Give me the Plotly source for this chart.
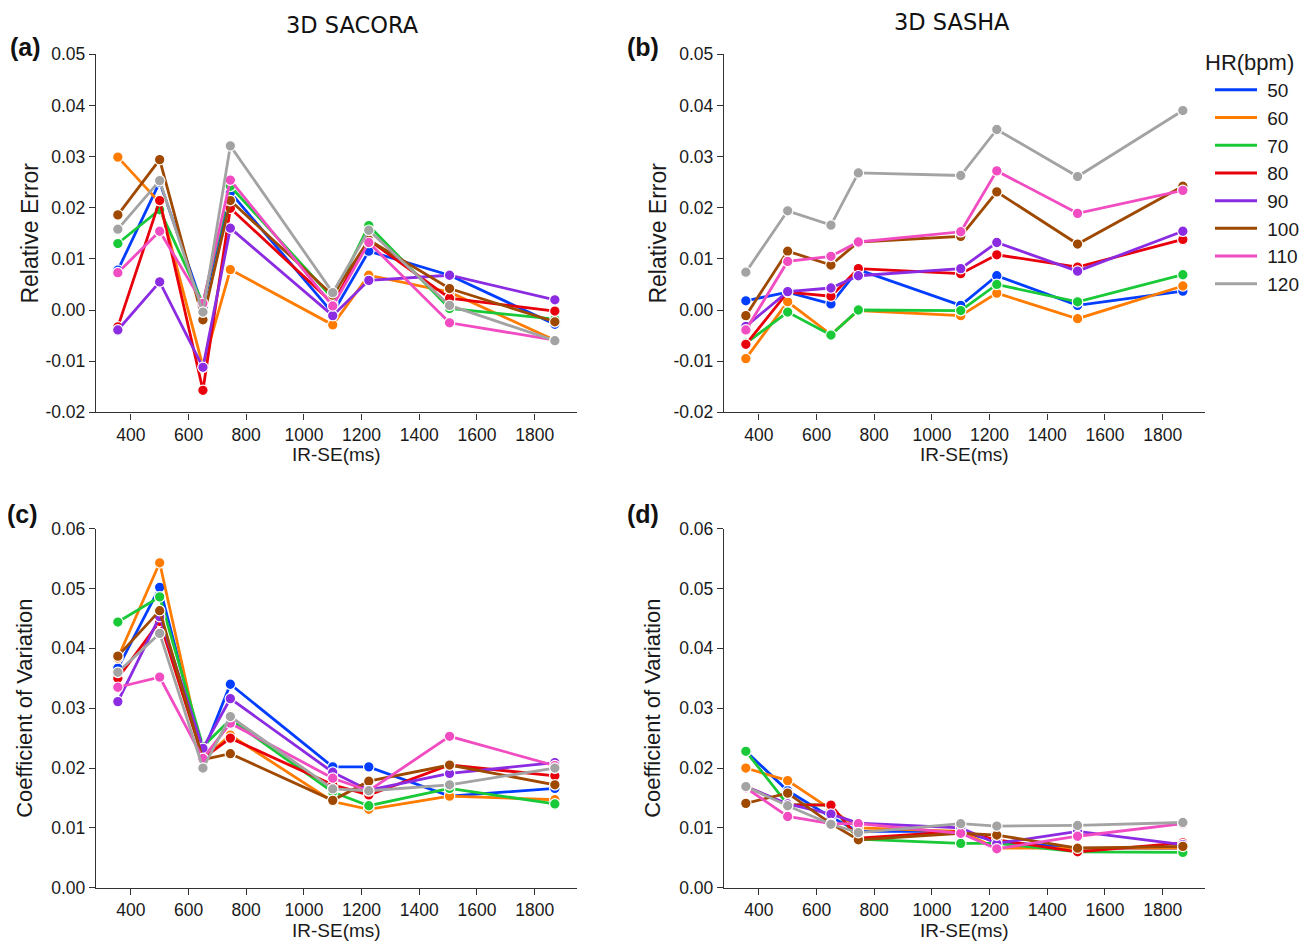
import plotly.graph_objects as go

# ---------------- data ----------------
ir_se = [355, 500, 650, 745, 1100, 1225, 1505, 1870]
hr_labels = ["50", "60", "70", "80", "90", "100", "110", "120"]
colors = ["#023eff", "#ff7c00", "#1ac938", "#e8000b", "#8b2be2", "#9f4800", "#f14cc1", "#a3a3a3"]

# (a) 3D SACORA relative error
sacora_re_50 = [0.0078, 0.0250, 0.0006, 0.0230, -0.0006, 0.0115, 0.0068, -0.0028]
sacora_re_60 = [0.0299, 0.0210, -0.0110, 0.0079, -0.0029, 0.0068, 0.0035, -0.0059]
sacora_re_70 = [0.0130, 0.0196, 0.0013, 0.0242, 0.0023, 0.0165, 0.0003, -0.0018]
sacora_re_80 = [-0.0033, 0.0214, -0.0157, 0.0199, 0.0013, 0.0137, 0.0023, -0.0002]
sacora_re_90 = [-0.0039, 0.0055, -0.0112, 0.0160, -0.0011, 0.0058, 0.0068, 0.0020]
sacora_re_100 = [0.0186, 0.0294, -0.0019, 0.0214, 0.0029, 0.0137, 0.0042, -0.0023]
sacora_re_110 = [0.0073, 0.0154, 0.0013, 0.0254, 0.0008, 0.0132, -0.0025, -0.0059]
sacora_re_120 = [0.0158, 0.0253, -0.0004, 0.0321, 0.0034, 0.0156, 0.0009, -0.0060]

# (b) 3D SASHA relative error
sasha_re_50 = [0.0018, 0.0035, 0.0012, 0.0079, 0.0009, 0.0067, 0.0009, 0.0037]
sasha_re_60 = [-0.0095, 0.0016, -0.0048, -0.0001, -0.0011, 0.0033, -0.0017, 0.0047]
sasha_re_70 = [-0.0065, -0.0004, -0.0049, 0.0000, -0.0001, 0.0050, 0.0016, 0.0069]
sasha_re_80 = [-0.0067, 0.0035, 0.0027, 0.0081, 0.0071, 0.0108, 0.0084, 0.0138]
sasha_re_90 = [-0.0032, 0.0036, 0.0043, 0.0067, 0.0081, 0.0132, 0.0076, 0.0154]
sasha_re_100 = [-0.0011, 0.0115, 0.0088, 0.0133, 0.0144, 0.0231, 0.0129, 0.0242]
sasha_re_110 = [-0.0039, 0.0095, 0.0105, 0.0133, 0.0153, 0.0272, 0.0189, 0.0234]
sasha_re_120 = [0.0074, 0.0194, 0.0166, 0.0268, 0.0263, 0.0353, 0.0261, 0.0390]

# (c) 3D SACORA coefficient of variation
sacora_cv_50 = [0.0367, 0.0502, 0.0225, 0.0340, 0.0202, 0.0202, 0.0153, 0.0166]
sacora_cv_60 = [0.0384, 0.0543, 0.0216, 0.0255, 0.0144, 0.0131, 0.0153, 0.0147]
sacora_cv_70 = [0.0444, 0.0486, 0.0236, 0.0281, 0.0160, 0.0137, 0.0166, 0.0140]
sacora_cv_80 = [0.0350, 0.0445, 0.0216, 0.0250, 0.0172, 0.0155, 0.0205, 0.0187]
sacora_cv_90 = [0.0311, 0.0453, 0.0233, 0.0316, 0.0193, 0.0163, 0.0191, 0.0209]
sacora_cv_100 = [0.0387, 0.0463, 0.0214, 0.0224, 0.0146, 0.0178, 0.0205, 0.0172]
sacora_cv_110 = [0.0335, 0.0352, 0.0216, 0.0275, 0.0183, 0.0162, 0.0253, 0.0204]
sacora_cv_120 = [0.0360, 0.0425, 0.0200, 0.0286, 0.0165, 0.0162, 0.0172, 0.0200]

# (d) 3D SASHA coefficient of variation
sasha_cv_50 = [0.0228, 0.0162, 0.0118, 0.0094, 0.0094, 0.0077, 0.0066, 0.0066]
sasha_cv_60 = [0.0200, 0.0179, 0.0131, 0.0100, 0.0094, 0.0066, 0.0066, 0.0066]
sasha_cv_70 = [0.0228, 0.0139, 0.0138, 0.0081, 0.0074, 0.0074, 0.0060, 0.0059]
sasha_cv_80 = [0.0169, 0.0139, 0.0138, 0.0083, 0.0094, 0.0080, 0.0060, 0.0075]
sasha_cv_90 = [0.0169, 0.0140, 0.0123, 0.0108, 0.0100, 0.0074, 0.0094, 0.0072]
sasha_cv_100 = [0.0141, 0.0158, 0.0107, 0.0080, 0.0091, 0.0088, 0.0066, 0.0069]
sasha_cv_110 = [0.0167, 0.0119, 0.0107, 0.0107, 0.0091, 0.0065, 0.0086, 0.0107]
sasha_cv_120 = [0.0169, 0.0137, 0.0106, 0.0092, 0.0107, 0.0103, 0.0104, 0.0109]

panels = [
    ("x", "y", [sacora_re_50, sacora_re_60, sacora_re_70, sacora_re_80, sacora_re_90, sacora_re_100, sacora_re_110, sacora_re_120]),
    ("x2", "y2", [sasha_re_50, sasha_re_60, sasha_re_70, sasha_re_80, sasha_re_90, sasha_re_100, sasha_re_110, sasha_re_120]),
    ("x3", "y3", [sacora_cv_50, sacora_cv_60, sacora_cv_70, sacora_cv_80, sacora_cv_90, sacora_cv_100, sacora_cv_110, sacora_cv_120]),
    ("x4", "y4", [sasha_cv_50, sasha_cv_60, sasha_cv_70, sasha_cv_80, sasha_cv_90, sasha_cv_100, sasha_cv_110, sasha_cv_120]),
]

W, H = 1309, 942
OFF = 8  # page body margin in the browser
FONT = "Liberation Sans, Arial"
NB = "\u00a0"
fig = go.Figure()

for xa, ya, series in panels:
    for lab, col, vals in zip(hr_labels, colors, series):
        fig.add_trace(go.Scatter(
            x=ir_se, y=vals, xaxis=xa, yaxis=ya, mode="lines+markers",
            line=dict(color=col, width=2.8),
            marker=dict(size=10.5, color=col, line=dict(color="white", width=1.2)),
            showlegend=False, name=lab))

# legend-only entries (lines only)
for lab, col in zip(hr_labels, colors):
    fig.add_trace(go.Scatter(x=[None], y=[None], xaxis="x2", yaxis="y2", mode="lines",
                             line=dict(color=col, width=3), name=NB + lab, showlegend=True))

def px_x(p):
    return (p - OFF) / W

def px_y(p):
    return 1 - (p - OFF) / H

xdom_l = [px_x(96), px_x(576.7)]
xdom_r = [px_x(724), px_x(1204.7)]
ydom_t = [px_y(412.3), px_y(54.3)]
ydom_b = [px_y(887.7), px_y(528.7)]

axis_common = dict(showline=True, linecolor="#333333", linewidth=1.4, ticks="outside",
                   ticklen=6, tickwidth=1.4, tickcolor="#333333", showgrid=False, zeroline=False,
                   automargin=False,
                   tickfont=dict(family=FONT, size=17.5, color="#1a1a1a"))

xticks = [400, 600, 800, 1000, 1200, 1400, 1600, 1800]
xcommon = dict(axis_common, range=[279.25, 1945.75], tickvals=xticks,
               title=dict(text="IR-SE(ms)", font=dict(family=FONT, size=19, color="#1a1a1a"), standoff=4))

re_ticks = [-0.02, -0.01, 0.0, 0.01, 0.02, 0.03, 0.04, 0.05]
re_text = ["-0.02", "-0.01", "0.00", "0.01", "0.02", "0.03", "0.04", "0.05"]
cv_ticks = [0.0, 0.01, 0.02, 0.03, 0.04, 0.05, 0.06]
cv_text = ["0.00", "0.01", "0.02", "0.03", "0.04", "0.05", "0.06"]

def ytitle(t, s, so):
    return dict(text=t, font=dict(family=FONT, size=s, color="#1a1a1a"), standoff=so)

fig.update_layout(
    width=W, height=H, margin=dict(l=0, r=0, t=0, b=0, autoexpand=False),
    plot_bgcolor="white", paper_bgcolor="white",
    xaxis=dict(xcommon, domain=xdom_l, anchor="y"),
    xaxis2=dict(xcommon, domain=xdom_r, anchor="y2"),
    xaxis3=dict(xcommon, domain=xdom_l, anchor="y3"),
    xaxis4=dict(xcommon, domain=xdom_r, anchor="y4"),
    yaxis=dict(axis_common, domain=ydom_t, anchor="x", range=[-0.02, 0.05], tickvals=re_ticks, ticktext=re_text,
               title=ytitle("Relative Error", 23, 0)),
    yaxis2=dict(axis_common, domain=ydom_t, anchor="x2", range=[-0.02, 0.05], tickvals=re_ticks, ticktext=re_text,
                title=ytitle("Relative Error", 23, 0)),
    yaxis3=dict(axis_common, domain=ydom_b, anchor="x3", range=[0, 0.06], tickvals=cv_ticks, ticktext=cv_text,
                title=ytitle("Coefficient of Variation", 22, 12)),
    yaxis4=dict(axis_common, domain=ydom_b, anchor="x4", range=[0, 0.06], tickvals=cv_ticks, ticktext=cv_text,
                title=ytitle("Coefficient of Variation", 22, 12)),
    legend=dict(x=px_x(1210), y=px_y(71), xanchor="left", yanchor="top",
                font=dict(family=FONT, size=19, color="#1a1a1a"),
                bgcolor="rgba(0,0,0,0)", itemwidth=42, tracegroupgap=0),
)

annots = [
    ("(a)", 25, 47), ("(b)", 643, 47), ("(c)", 22, 514), ("(d)", 643, 514),
]
for t, xx, yy in annots:
    fig.add_annotation(text="<b>" + t + "</b>", x=px_x(xx), y=px_y(yy), xref="paper", yref="paper",
                       showarrow=False, xanchor="center", yanchor="middle",
                       font=dict(family=FONT, size=25, color="#111111"))

for t, xx, yy in [("3D SACORA", 352, 25), ("3D SASHA", 952, 22)]:
    fig.add_annotation(text=t, x=px_x(xx), y=px_y(yy), xref="paper", yref="paper",
                       showarrow=False, xanchor="center", yanchor="middle",
                       font=dict(family="DejaVu Sans", size=22.5, color="#111111"))

# legend heading
fig.add_annotation(text="HR(bpm)", x=px_x(1203), y=px_y(63), xref="paper", yref="paper",
                   showarrow=False, xanchor="left", yanchor="middle",
                   font=dict(family=FONT, size=22, color="#1a1a1a"))

fig.write_html("out.html")
